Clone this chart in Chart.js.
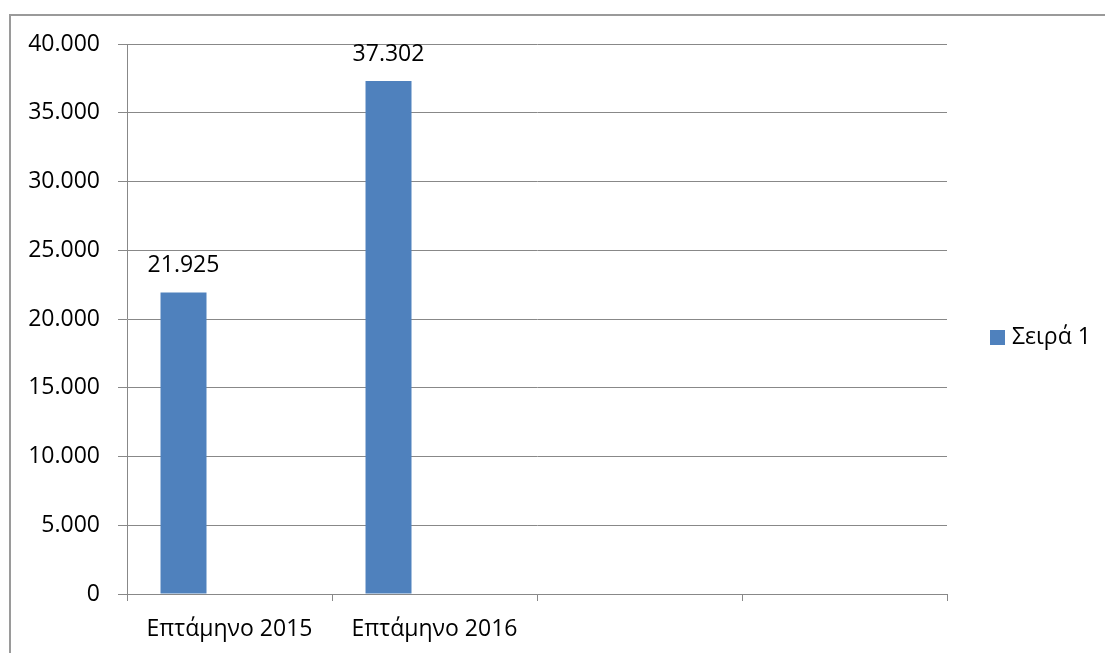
<!DOCTYPE html>
<html>
<head>
<meta charset="utf-8">
<script src="https://cdn.jsdelivr.net/npm/chart.js@4"></script>
<style>
  html, body { margin: 0; padding: 0; background: #fff; overflow: hidden; }
  #frame { position: absolute; left: 9px; top: 14px; width: 1300px; height: 639px; border: 2px solid #9a9a9a; border-bottom: none; box-sizing: border-box; }
  #wrap { position: absolute; left: 0; top: 0; width: 1105px; height: 654px; }
</style>
</head>
<body>
<div id="frame"></div>
<div id="wrap"><canvas id="c" width="1105" height="654"></canvas></div>
<script>
const categories = ['Επτάμηνο 2015', 'Επτάμηνο 2016', '', ''];
const series1Name = 'Σειρά 1';
const series1Values = [21925, 37302, null, null];
const series2Name = 'Σειρά 2';
const series2Values = [null, null, null, null];
const series3Name = 'Σειρά 3';
const series3Values = [null, null, null, null];
const yTicks = [0, 5000, 10000, 15000, 20000, 25000, 30000, 35000, 40000];

const FONT = "'Open Sans', 'Noto Sans', sans-serif";
const FS = 23;
const BAR = '#4F81BD';
const GRID = '#888888';

function fmt(v) {
  return String(v).replace(/\B(?=(\d{3})+(?!\d))/g, '.');
}

const valueLabels = {
  id: 'valueLabels',
  afterDatasetsDraw(chart) {
    const ctx = chart.ctx;
    const meta = chart.getDatasetMeta(0);
    ctx.save();
    ctx.font = FS + 'px ' + FONT;
    ctx.fillStyle = '#000';
    ctx.textAlign = 'center';
    ctx.textBaseline = 'middle';
    meta.data.forEach((bar, i) => {
      const v = chart.data.datasets[0].data[i];
      if (v == null) return;
      ctx.fillText(fmt(v), bar.x, bar.y - 27);
    });
    ctx.restore();
  }
};

const sideLegend = {
  id: 'sideLegend',
  afterDraw(chart) {
    const ctx = chart.ctx;
    const ds = chart.data.datasets[0];
    ctx.save();
    ctx.fillStyle = ds.backgroundColor;
    ctx.fillRect(990, 330, 15, 15);
    ctx.font = FS + 'px ' + FONT;
    ctx.fillStyle = '#000';
    ctx.textAlign = 'left';
    ctx.textBaseline = 'middle';
    ctx.fillText(ds.label, 1012, 337);
    ctx.restore();
  }
};

new Chart(document.getElementById('c'), {
  type: 'bar',
  data: {
    labels: categories,
    datasets: [
      { label: series1Name, data: series1Values, backgroundColor: BAR, barPercentage: 1.0, categoryPercentage: 0.673 },
      { label: series2Name, data: series2Values, backgroundColor: '#C0504D', barPercentage: 1.0, categoryPercentage: 0.673 },
      { label: series3Name, data: series3Values, backgroundColor: '#9BBB59', barPercentage: 1.0, categoryPercentage: 0.673 }
    ]
  },
  options: {
    responsive: false,
    animation: false,
    devicePixelRatio: 1,
    layout: { padding: { left: 0, top: 44, right: 158, bottom: 0 } },
    plugins: {
      legend: { display: false },
      tooltip: { enabled: false }
    },
    scales: {
      x: {
        offset: true,
        grid: { display: true, offset: true, drawOnChartArea: false, drawTicks: true, tickLength: 7, color: GRID, lineWidth: 1 },
        border: { display: true, color: GRID, width: 1 },
        ticks: { font: { family: FONT, size: FS }, color: '#000', padding: 15, maxRotation: 0, autoSkip: false },
        afterFit(s) { s.height = 60; s.paddingLeft = 0; s.paddingRight = 0; }
      },
      y: {
        min: 0, max: 40000,
        afterBuildTicks(s) { s.ticks = yTicks.map(v => ({ value: v })); },
        grid: { color: GRID, lineWidth: 1, drawTicks: true, tickLength: 9 },
        border: { display: true, color: GRID, width: 1 },
        ticks: { font: { family: FONT, size: FS }, color: '#000', padding: 18, callback: v => fmt(v) },
        afterFit(s) { s.width = 127; s.paddingTop = 0; s.paddingBottom = 0; }
      }
    }
  },
  plugins: [valueLabels, sideLegend]
});
</script>
</body>
</html>
